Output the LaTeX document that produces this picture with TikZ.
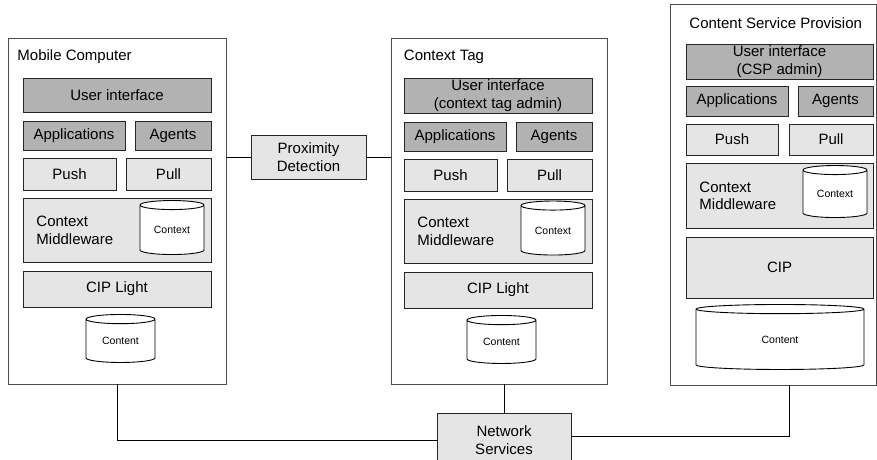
\documentclass[tikz,border=0pt]{standalone}
\usepackage{fontspec}
\setmainfont{Liberation Sans}
\usetikzlibrary{shapes.geometric}

\begin{document}
\begin{tikzpicture}[x=1pt,y=-1pt,line width=0.9pt,
  font=\fontsize{15}{17.5}\selectfont]
  \tikzstyle{host}=[draw=black!70,line width=0.8pt,inner sep=0pt]
  \tikzstyle{dark}=[draw=black!85,fill=black!30,inner sep=0pt,align=center]
  \tikzstyle{light}=[draw=black!85,fill=black!10,inner sep=0pt,align=center]
  \tikzstyle{store}=[cylinder,shape border rotate=90,aspect=0.25,draw=black,
    fill=white,inner sep=0pt,font=\fontsize{10.5}{12}\selectfont]
  \tikzstyle{title}=[anchor=base west,inner sep=0pt]
  \tikzstyle{mw}=[anchor=west,inner sep=0pt,align=left]

  \useasboundingbox (0,0) rectangle (877,459);

  % mobile computer
  \node[host,minimum width=217.5,minimum height=346] (mc) at (117.25,211) {};
  \node[title] (mcTitle) at (17,60) {Mobile Computer};
  \node[dark,minimum width=188,minimum height=34] (mcUI)   at (117,95)    {User interface};
  \node[dark,minimum width=102,minimum height=29] (mcApp)  at (74,135.5)  {Applications};
  \node[dark,minimum width=76,minimum height=29]  (mcAgt)  at (173,135.5) {Agents};
  \node[light,minimum width=93,minimum height=32] (mcPush) at (69.5,174)  {Push};
  \node[light,minimum width=85,minimum height=32] (mcPull) at (168.5,174) {Pull};
  \node[light,minimum width=188,minimum height=64] (mcMid) at (117,230)   {};
  \node[mw] (mcMidText) at (36,230.5) {Context\\Middleware};
  \node[store,minimum width=64,minimum height=54] (mcCtx) at (172,230)   {Context};
  \node[light,minimum width=188,minimum height=36] (mcCIP) at (117,289)   {CIP Light};
  \node[store,minimum width=69,minimum height=48] (mcCnt) at (120.5,341) {Content};

  % context tag
  \node[host,minimum width=216,minimum height=346] (ct) at (499,211) {};
  \node[title] (ctTitle) at (403.5,60) {Context Tag};
  \node[dark,minimum width=188,minimum height=35] (ctUI)   at (498,95.5)  {User interface\\(context tag admin)};
  \node[dark,minimum width=102,minimum height=29] (ctApp)  at (455,136.5) {Applications};
  \node[dark,minimum width=76,minimum height=29]  (ctAgt)  at (554,136.5) {Agents};
  \node[light,minimum width=93,minimum height=32] (ctPush) at (450.5,175) {Push};
  \node[light,minimum width=85,minimum height=32] (ctPull) at (549.5,175) {Pull};
  \node[light,minimum width=188,minimum height=64] (ctMid) at (498,231)   {};
  \node[mw] (ctMidText) at (417,231.5) {Context\\Middleware};
  \node[store,minimum width=64,minimum height=54] (ctCtx) at (553,230.5) {Context};
  \node[light,minimum width=188,minimum height=36] (ctCIP) at (498,290)   {CIP Light};
  \node[store,minimum width=69,minimum height=48] (ctCnt) at (501.5,342) {Content};

  % content service provision
  \node[host,minimum width=206.5,minimum height=381] (csp) at (773.25,194.5) {};
  \node[title] (cspTitle) at (689,28.5) {Content Service Provision};
  \node[dark,minimum width=187,minimum height=35] (cspUI)   at (779.5,61.5) {User interface\\(CSP admin)};
  \node[dark,minimum width=102,minimum height=30] (cspApp)  at (737,101)    {Applications};
  \node[dark,minimum width=75,minimum height=30]  (cspAgt)  at (835.5,101)  {Agents};
  \node[light,minimum width=92,minimum height=31] (cspPush) at (732,139.5)  {Push};
  \node[light,minimum width=84,minimum height=31] (cspPull) at (831,139.5)  {Pull};
  \node[light,minimum width=187,minimum height=65] (cspMid) at (779.5,195.5) {};
  \node[mw] (cspMidText) at (699,196) {Context\\Middleware};
  \node[store,minimum width=64,minimum height=52] (cspCtx) at (835,194)   {Context};
  \node[light,minimum width=187,minimum height=61] (cspCIP) at (779.5,267.5) {CIP};
  \node[store,minimum width=168,minimum height=65] (cspCnt) at (780,339.5) {Content};

  % links
  \node[light,minimum width=115,minimum height=44] (prox) at (308.5,157) {Proximity\\Detection};
  \node[light,minimum width=134,minimum height=54] (net)  at (504,440)   {Network\\Services};
  \coordinate (cspLink) at (789,385);

  \draw (prox.west) -- (prox.west -| mc.east);
  \draw (prox.east) -- (prox.east -| ct.west);
  \draw (mc.south) |- (net.west);
  \draw (net.north) -- (net.north |- ct.south);
  \draw (cspLink) |- ([yshift=4]net.east);
\end{tikzpicture}
\end{document}
